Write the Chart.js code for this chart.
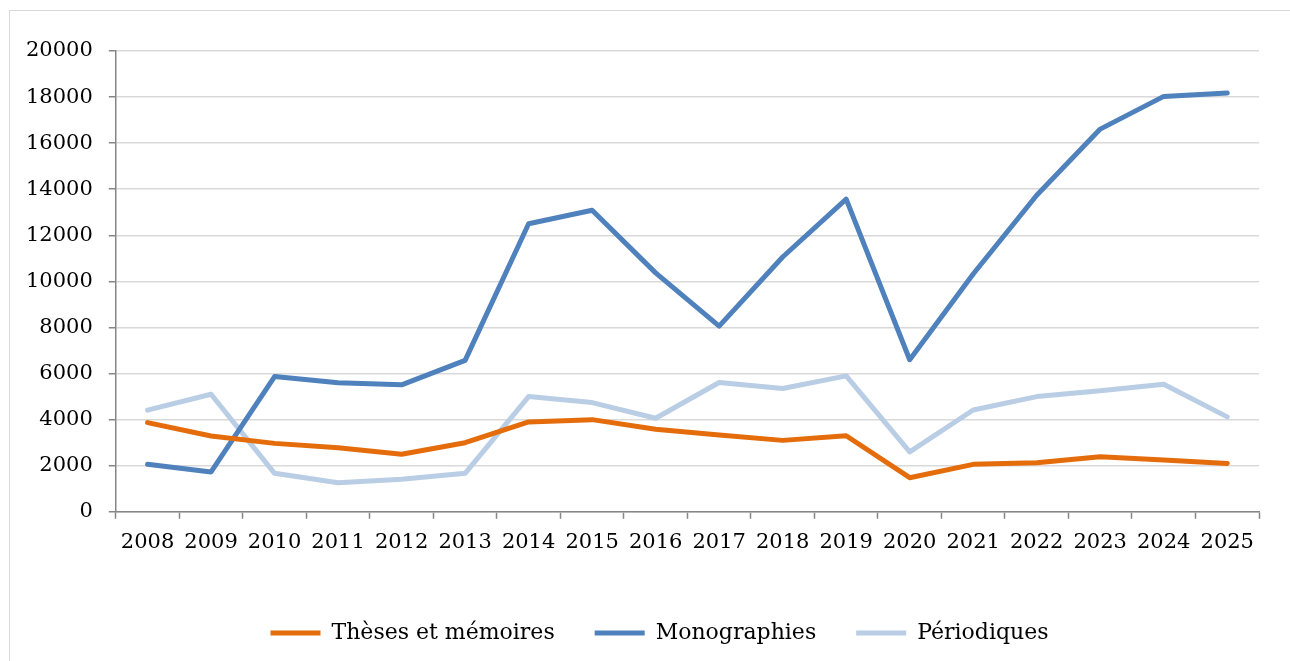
<!DOCTYPE html>
<html>
<head>
<meta charset="utf-8">
<script src="https://cdn.jsdelivr.net/npm/chart.js@4"></script>
<style>
  html, body { margin: 0; padding: 0; background: #fff; overflow: hidden; }
  #frame {
    position: absolute; left: 9px; top: 10px; width: 1300px; height: 700px;
    border: 1px solid #d9d9d9; box-sizing: border-box;
  }
  #wrap { position: absolute; left: 0; top: 0; width: 1290px; height: 700px; }
</style>
</head>
<body>
<div id="frame"></div>
<div id="wrap"><canvas id="chart"></canvas></div>
<script>
// Values
const years = ["2008", "2009", "2010", "2011", "2012", "2013", "2014", "2015", "2016",
  "2017", "2018", "2019", "2020", "2021", "2022", "2023", "2024", "2025"];

const theses = [3870, 3290, 2970, 2780, 2500, 3000, 3900, 4000, 3580,
  3330, 3100, 3300, 1480, 2060, 2130, 2390, 2250, 2100];

const monographies = [2060, 1730, 5870, 5600, 5510, 6570, 12500, 13090, 10370,
  8060, 11060, 13570, 6600, 10320, 13740, 16610, 18030, 18180];

const periodiques = [4410, 5100, 1670, 1260, 1410, 1670, 5000, 4740, 4060,
  5610, 5350, 5900, 2600, 4420, 5000, 5250, 5540, 4120];

const seriesNames = ["Thèses et mémoires", "Monographies", "Périodiques"];
const seriesColors = ["#E46C0A", "#4F81BD", "#B9CDE5"];

const yTicks = { min: 0, max: 20000, step: 2000 };

const font = "'DejaVu Serif', 'Liberation Serif', serif";
const axisGray = "#868686";
const gridGray = "#D9D9D9";

function lineSet(label, data, color) {
  return {
    label,
    data,
    borderColor: color,
    backgroundColor: color,
    borderWidth: 5,
    borderCapStyle: "round",
    borderJoinStyle: "round",
    pointRadius: 0,
    pointHoverRadius: 0,
    tension: 0,
    fill: false
  };
}

// the legend in the original sits a bit right of centre
const legendNudge = {
  id: "legendNudge",
  afterLayout(chart, args, opts) {
    if (!chart.legend) return;
    chart.legend.left += opts.dx || 0;
    chart.legend.right += opts.dx || 0;
  }
};

new Chart(document.getElementById("chart").getContext("2d"), {
  type: "line",
  data: {
    labels: years,
    datasets: [
      lineSet(seriesNames[0], theses, seriesColors[0]),
      lineSet(seriesNames[1], monographies, seriesColors[1]),
      lineSet(seriesNames[2], periodiques, seriesColors[2])
    ]
  },
  plugins: [legendNudge],
  options: {
    responsive: true,
    maintainAspectRatio: false,
    animation: false,
    layout: { padding: { left: 10, right: 31, top: 51, bottom: 46 } },
    scales: {
      x: {
        offset: true,
        grid: {
          offset: true,
          drawOnChartArea: false,
          tickLength: 7,
          tickColor: axisGray,
          tickWidth: 1.5
        },
        border: { color: axisGray, width: 1.5 },
        ticks: { color: "#000", font: { family: font, size: 21 }, padding: 11, maxRotation: 0 },
        afterFit(scale) { scale.height += 16; }
      },
      y: {
        min: yTicks.min,
        max: yTicks.max,
        grid: {
          color: gridGray,
          lineWidth: 1.5,
          tickLength: 7,
          tickColor: axisGray,
          tickWidth: 1.5
        },
        border: { color: axisGray, width: 1.5 },
        ticks: {
          stepSize: yTicks.step,
          color: "#000",
          font: { family: font, size: 21 },
          padding: 16,
          callback: v => String(v)
        }
      }
    },
    plugins: {
      tooltip: { enabled: false },
      legendNudge: { dx: 25 },
      legend: {
        position: "bottom",
        labels: {
          usePointStyle: true,
          pointStyle: "line",
          pointStyleWidth: 50,
          padding: 40,
          color: "#000",
          font: { family: font, size: 22 }
        }
      }
    }
  }
});
</script>
</body>
</html>
